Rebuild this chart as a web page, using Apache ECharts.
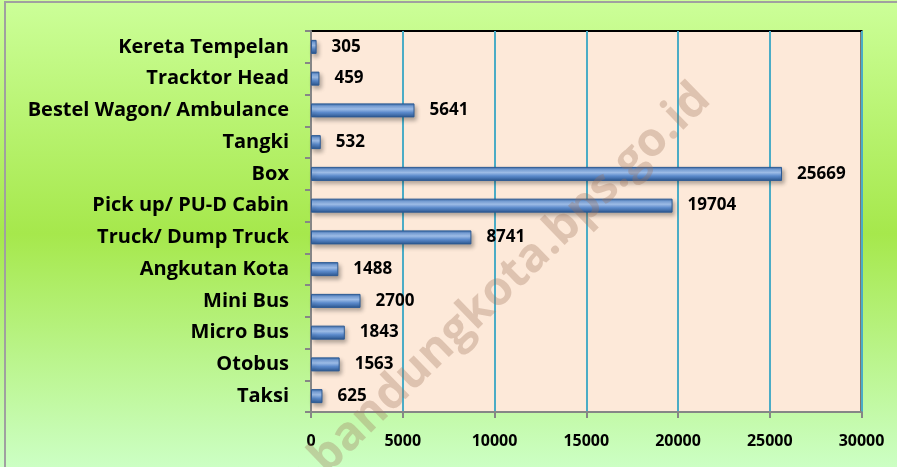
<!DOCTYPE html>
<html>
<head>
<meta charset="utf-8">
<script src="https://cdn.jsdelivr.net/npm/echarts@6/dist/echarts.min.js"></script>
<style>
  html, body { margin: 0; padding: 0; }
  #chart { width: 897px; height: 467px; }
</style>
</head>
<body>
<div id="chart"></div>
<script>
// jenis kendaraan, dari bawah ke atas
const categories = ['Taksi', 'Otobus', 'Micro Bus', 'Mini Bus', 'Angkutan Kota', 'Truck/ Dump Truck',
  'Pick up/ PU-D Cabin', 'Box', 'Tangki', 'Bestel Wagon/ Ambulance', 'Tracktor Head', 'Kereta Tempelan']
const values = [625, 1563, 1843, 2700, 1488, 8741, 19704, 25669, 532, 5641, 459, 305]
const xTicks = [0, 5000, 10000, 15000, 20000, 25000, 30000]
const watermark = 'www.bandungkota.bps.go.id'

const chart = echarts.init(document.getElementById('chart'))

const option = {
  backgroundColor: {
    type: 'linear', x: 0, y: 0, x2: 0, y2: 1,
    colorStops: [
      { offset: 0, color: '#ccff99' },
      { offset: 0.5, color: '#a6e84c' },
      { offset: 1, color: '#ccffc4' }
    ]
  },
  grid: {
    left: 311,
    right: 35.5,
    top: 31,
    bottom: 55,
    show: true,
    backgroundColor: '#fde9d9',
    borderColor: '#000',
    borderWidth: 2
  },
  xAxis: {
    type: 'value',
    min: xTicks[0],
    max: xTicks[xTicks.length - 1],
    interval: 5000,
    axisLine: { show: true, lineStyle: { color: '#868686', width: 2 } },
    axisTick: { show: true, length: 6, lineStyle: { color: '#868686', width: 2 } },
    axisLabel: {
      margin: 21,
      color: '#000',
      fontFamily: 'Open Sans',
      fontWeight: 'bold',
      fontSize: 16,
      formatter: v => String(v)
    },
    splitLine: { show: true, lineStyle: { color: '#4bacc6', width: 2 } }
  },
  yAxis: {
    type: 'category',
    data: categories,
    axisLine: { show: true, lineStyle: { color: '#868686', width: 2 } },
    axisTick: { show: true, length: 6, lineStyle: { color: '#868686', width: 2 } },
    axisLabel: {
      margin: 22,
      color: '#000',
      fontFamily: 'Open Sans',
      fontWeight: 'bold',
      fontSize: 20
    }
  },
  series: [
    {
      type: 'bar',
      data: values,
      barWidth: 14,
      itemStyle: {
        color: {
          type: 'linear', x: 0, y: 0, x2: 0, y2: 1,
          colorStops: [
            { offset: 0, color: '#2f5f9e' },
            { offset: 0.2, color: '#7ea7df' },
            { offset: 0.4, color: '#a3c3ef' },
            { offset: 0.65, color: '#5b8acb' },
            { offset: 1, color: '#2a558e' }
          ]
        },
        borderColor: '#2c5a94',
        borderWidth: 1,
        shadowColor: 'rgba(0,0,0,0.3)',
        shadowBlur: 4,
        shadowOffsetX: 2,
        shadowOffsetY: 3
      },
      label: {
        show: true,
        position: 'right',
        distance: 15,
        color: '#000',
        fontFamily: 'Open Sans',
        fontWeight: 'bold',
        fontSize: 17
      }
    }
  ],
  graphic: [
    {
      type: 'rect',
      z: 100,
      silent: true,
      shape: { x: 5, y: 2, width: 900, height: 480 },
      style: { fill: 'none', stroke: '#a0a0a0', lineWidth: 2 }
    },
    {
      // watermark
      type: 'text',
      z: 100,
      silent: true,
      x: 703,
      y: 92,
      rotation: 0.77,
      style: {
        text: watermark,
        fill: 'rgba(160,115,90,0.32)',
        font: 'bold 47px "Open Sans"',
        align: 'right',
        verticalAlign: 'middle'
      }
    }
  ]
}

chart.setOption(option)
</script>
</body>
</html>
